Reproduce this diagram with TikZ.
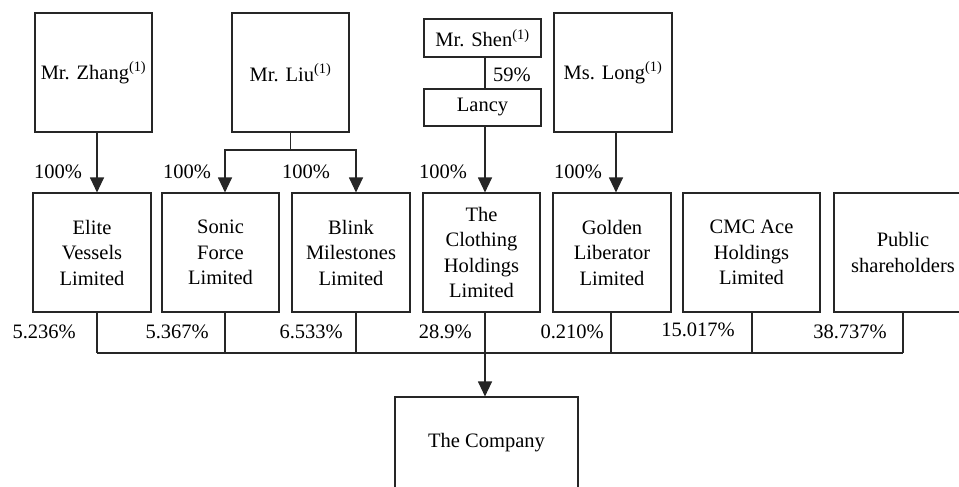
\documentclass[tikz,border=0pt]{standalone}
\usepackage{fontspec}
\setmainfont{Liberation Serif}
\usetikzlibrary{arrows.meta}
\newcommand{\fs}{\fontsize{20.5}{25.5}\selectfont}
\tikzset{
  box/.style={draw=black!85, line width=1.1pt, minimum width=117pt, minimum height=119pt, align=center, inner sep=0pt, font=\fs, text=black},
  small/.style={box, minimum height=38pt},
  ln/.style={draw=black!85, line width=1.1pt},
  arr/.style={ln, -{Triangle[width=14pt,length=15pt]}},
  pct/.style={inner sep=0pt, font=\fs, text=black}
}
\begin{document}
\begin{tikzpicture}[x=1pt,y=-1pt]
\clip (0,0) rectangle (959,487);
\fill[white] (0,0) rectangle (959,487);
% top row
\node[box] (zhang) at (93.5,72.5) {Mr. Zhang\textsuperscript{(1)}};
\node[box] (liu) at (290.5,72.5) {Mr. Liu\textsuperscript{(1)}};
\node[small] (shen) at (482.5,38) {Mr. Shen\textsuperscript{(1)}};
\node[small, minimum height=37pt] (lancy) at (482.5,107.5) {Lancy};
\node[box, minimum width=118pt] (long) at (613,72.5) {Ms. Long\textsuperscript{(1)}};
% bottom row
\node[box, minimum width=118pt] (elite) at (92,252.5) {Elite\\Vessels\\Limited};
\node[box] (sonic) at (220.5,252.5) {Sonic\\Force\\Limited};
\node[box, minimum width=118pt] (blink) at (351,252.5) {Blink\\Milestones\\Limited};
\node[box] (clothing) at (481.5,252.5) {The\\Clothing\\Holdings\\Limited};
\node[box, minimum width=118pt] (golden) at (612,252.5) {Golden\\Liberator\\Limited};
\node[box, minimum width=137pt] (cmc) at (751.5,252.5) {CMC Ace\\Holdings\\Limited};
\node[box, minimum width=138pt] (public) at (903,252.5) {Public\\shareholders};
% company
\node[box, minimum width=183pt, minimum height=92pt] (company) at (486.5,443) {The Company};
% upper connectors
\draw[arr] ([xshift=3.5pt]zhang.south) -- ([xshift=5pt]elite.north);
\coordinate (lsplit) at (290.5,150);
\draw[ln] (liu.south) -- (lsplit);
\draw[arr] (lsplit) -| ([xshift=4.5pt]sonic.north);
\draw[arr] (lsplit) -| ([xshift=5pt]blink.north);
\draw[ln] ([xshift=2.5pt]shen.south) -- ([xshift=2.5pt]lancy.north);
\draw[arr] ([xshift=2.5pt]lancy.south) -- ([xshift=3.5pt]clothing.north);
\draw[arr] ([xshift=3pt]long.south) -- ([xshift=4pt]golden.north);
% labels upper
\node[pct, anchor=west] (p1) at (34,172) {100\%};
\node[pct, anchor=west] (p2) at (163,172) {100\%};
\node[pct, anchor=west] (p3) at (282,172) {100\%};
\node[pct, anchor=west] (p4) at (419,172) {100\%};
\node[pct, anchor=west] (p5) at (554,172) {100\%};
\node[pct, anchor=west] (p59) at (493,75) {59\%};
% bus
\coordinate (bus) at (0,353);
\draw[ln] ([xshift=5pt]elite.south) -- ([xshift=5pt]elite.south |- bus);
\draw[ln] ([xshift=4.5pt]sonic.south) -- ([xshift=4.5pt]sonic.south |- bus);
\draw[ln] ([xshift=5pt]blink.south) -- ([xshift=5pt]blink.south |- bus);
\draw[ln] ([xshift=-1pt]golden.south) -- ([xshift=-1pt]golden.south |- bus);
\draw[ln] ([xshift=0.5pt]cmc.south) -- ([xshift=0.5pt]cmc.south |- bus);
\draw[ln] (public.south) -- (public.south |- bus);
\draw[ln] ([xshift=5pt]elite.south |- bus) -- (public.south |- bus);
\draw[arr] ([xshift=3.5pt]clothing.south) -- ([xshift=-1.5pt]company.north);
% bottom labels
\node[pct, anchor=east] (b1) at (76,332) {5.236\%};
\node[pct, anchor=east] (b2) at (209,332) {5.367\%};
\node[pct, anchor=east] (b3) at (343,332) {6.533\%};
\node[pct, anchor=east] (b4) at (472,332) {28.9\%};
\node[pct, anchor=east] (b5) at (604,332) {0.210\%};
\node[pct, anchor=east] (b6) at (735,330) {15.017\%};
\node[pct, anchor=east] (b7) at (887,332) {38.737\%};
\end{tikzpicture}
\end{document}
